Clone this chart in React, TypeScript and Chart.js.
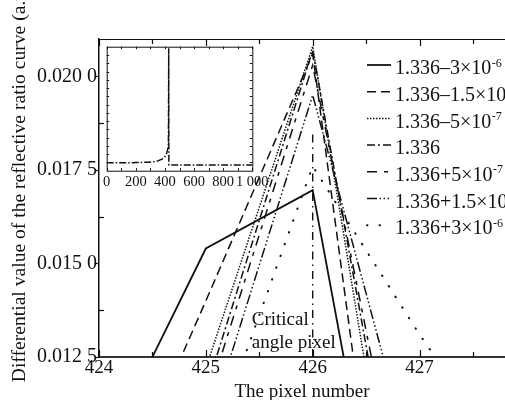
import React, { useEffect, useRef } from "react";
import { Chart, registerables } from "chart.js";

Chart.register(...registerables);

const FONT = '"Liberation Serif", "Times New Roman", serif';

// ---- main chart data ----
const pixelNumbers = [424, 425, 426, 427];
const pixelNumbersLong = [424, 425, 426, 427, 428];

const seriesBase = [
  "1.336–3×10",
  "1.336–1.5×10",
  "1.336–5×10",
  "1.336",
  "1.336+5×10",
  "1.336+1.5×10",
  "1.336+3×10",
];
const seriesExp = ["-6", "-6", "-7", "", "-7", "-6", "-6"];

const sMinus3e6 = [0.0096, 0.0154, 0.01696, 0.0016];
const sMinus15e6 = [0.0075, 0.014, 0.0206, -0.0007];
const sMinus5e7 = [0.0075, 0.0122, 0.0208, 0.0035];
const sCenter = [0.007, 0.0116, 0.0207, 0.0049];
const sPlus5e7 = [0.0068, 0.01123, 0.0203, 0.0061];
const sPlus15e6 = [0.0065, 0.01041, 0.0195, 0.0089];
const sPlus3e6 = [0.0058, 0.00963, 0.0176, 0.0131, 0.009];

const criticalPixel = 426;
const criticalRange = [0.0125, 0.0185];
const criticalText = ["Critical", "angle pixel"];
const criticalTextX = 425.43;
const criticalTextY = [0.0135, 0.01288];

const xTicks = [424, 425, 426, 427];
const xTickLabels = ["424", "425", "426", "427"];
const xMinorTicks = [424, 424.5, 425, 425.5, 426, 426.5, 427, 427.5];
const yTicks = [0.0125, 0.015, 0.0175, 0.02];
const yTickLabels = ["0.012 5", "0.015 0", "0.017 5", "0.020 0"];
const yMinorTicks = [0.01375, 0.01625, 0.01875];
const yTitle = "      Differential value of the reflective ratio curve (a.u)";
const xTitle = "The pixel number";

// ---- inset data ----
const insetX = [0, 100, 200, 280, 340, 380, 400, 412, 420, 424, 426, 427, 430, 600, 800, 1000];
const insetY = [0.095, 0.096, 0.098, 0.102, 0.11, 0.14, 0.17, 0.21, 0.27, 0.33, 1.48, 0.07, 0.07, 0.068, 0.068, 0.068];
const insetXTicks = [0, 200, 400, 600, 800, 1000];
const insetXTickLabels = ["0", "200", "400", "600", "800", "1 000"];
const insetXMinor = [0, 100, 200, 300, 400, 500, 600, 700, 800, 900, 1000];
const insetYMinor = [0.1, 0.2, 0.3, 0.4, 0.5, 0.6, 0.7, 0.8, 0.9, 1.0, 1.1, 1.2, 1.3, 1.4];

const toXY = (xs: number[], ys: number[]) => ys.map((v, i) => ({ x: xs[i], y: v }));

const mainDecor = {
  id: "mainDecor",
  afterDraw(chart: any) {
    const { ctx, chartArea: a, scales } = chart;
    const x = scales.x;
    const y = scales.y;
    ctx.save();
    ctx.setLineDash([]);
    ctx.strokeStyle = "#111";
    ctx.lineWidth = 1.2;
    ctx.beginPath();
    ctx.moveTo(a.left, a.top + 0.5);
    ctx.lineTo(a.right, a.top + 0.5);
    ctx.stroke();
    // x ticks (inward, bottom and top)
    for (const v of xMinorTicks) {
      const px = Math.round(x.getPixelForValue(v)) + 0.5;
      const major = xTicks.includes(v);
      const len = major ? 7 : 5;
      ctx.beginPath();
      ctx.moveTo(px, a.bottom);
      ctx.lineTo(px, a.bottom - len);
      ctx.moveTo(px, a.top);
      ctx.lineTo(px, a.top + len);
      ctx.stroke();
    }
    // y ticks
    for (const v of yTicks) {
      const py = Math.round(y.getPixelForValue(v)) + 0.5;
      ctx.beginPath();
      ctx.moveTo(a.left - 4, py);
      ctx.lineTo(a.left, py);
      ctx.stroke();
    }
    for (const v of yMinorTicks) {
      const py = Math.round(y.getPixelForValue(v)) + 0.5;
      ctx.beginPath();
      ctx.moveTo(a.left, py);
      ctx.lineTo(a.left + 5, py);
      ctx.stroke();
    }
    // legend
    const lx0 = 367, lx1 = 391, tx = 395, ly0 = 65, step = 26.7;
    seriesBase.forEach((label, i) => {
      const ds = chart.data.datasets[i];
      const ry = ly0 + i * step;
      ctx.save();
      ctx.strokeStyle = ds.borderColor;
      ctx.lineWidth = ds.borderWidth;
      ctx.lineCap = ds.borderCapStyle || "butt";
      ctx.setLineDash(ds.borderDash || []);
      ctx.beginPath();
      ctx.moveTo(lx0, ry);
      ctx.lineTo(lx1, ry);
      ctx.stroke();
      ctx.restore();
      ctx.fillStyle = "#111";
      ctx.textBaseline = "middle";
      ctx.textAlign = "left";
      ctx.font = `20px ${FONT}`;
      ctx.fillText(label, tx, ry + 4);
      const w = ctx.measureText(label).width;
      if (seriesExp[i]) {
        ctx.font = `12px ${FONT}`;
        ctx.fillText(seriesExp[i], tx + w + 0.5, ry - 1.5);
      }
    });
    // critical angle text
    ctx.font = `19px ${FONT}`;
    ctx.fillStyle = "#111";
    ctx.textAlign = "left";
    ctx.textBaseline = "middle";
    criticalText.forEach((t, i) => {
      ctx.fillText(t, x.getPixelForValue(criticalTextX), y.getPixelForValue(criticalTextY[i]));
    });
    ctx.restore();
  },
};

const insetDecor = {
  id: "insetDecor",
  beforeDatasetsDraw(chart: any) {
    const { ctx, chartArea: a } = chart;
    ctx.save();
    ctx.fillStyle = "#fff";
    ctx.fillRect(a.left, a.top, a.right - a.left, a.bottom - a.top);
    ctx.restore();
  },
  afterDraw(chart: any) {
    const { ctx, chartArea: a, scales } = chart;
    const x = scales.x;
    const y = scales.y;
    ctx.save();
    ctx.setLineDash([]);
    ctx.strokeStyle = "#111";
    ctx.lineWidth = 1;
    ctx.strokeRect(a.left + 0.5, a.top + 0.5, a.right - a.left, a.bottom - a.top);
    for (const v of insetXMinor) {
      const px = Math.round(x.getPixelForValue(v)) + 0.5;
      ctx.beginPath();
      ctx.moveTo(px, a.bottom);
      ctx.lineTo(px, a.bottom - 2.5);
      ctx.moveTo(px, a.top);
      ctx.lineTo(px, a.top + 2.5);
      ctx.stroke();
    }
    for (const v of insetYMinor) {
      const py = Math.round(y.getPixelForValue(v)) + 0.5;
      ctx.beginPath();
      ctx.moveTo(a.left, py);
      ctx.lineTo(a.left + 2.5, py);
      ctx.moveTo(a.right, py);
      ctx.lineTo(a.right - 2.5, py);
      ctx.stroke();
    }
    ctx.restore();
  },
};

export default function App() {
  const mainRef = useRef<HTMLCanvasElement>(null);
  const insetRef = useRef<HTMLCanvasElement>(null);

  useEffect(() => {
    document.body.style.margin = "0";
    const line = (data: any[], dash: number[], width = 1.5, cap = "butt") => ({
      data,
      borderColor: "#111",
      borderWidth: width,
      borderDash: dash,
      borderCapStyle: cap,
      pointRadius: 0,
      fill: false,
      tension: 0,
    });
    const main = new Chart(mainRef.current!, {
      type: "line",
      data: {
        datasets: [
          { label: seriesBase[0], ...line(toXY(pixelNumbers, sMinus3e6), [], 1.8) },
          { label: seriesBase[1], ...line(toXY(pixelNumbers, sMinus15e6), [9, 5]) },
          { label: seriesBase[2], ...line(toXY(pixelNumbers, sMinus5e7), [1.5, 1.5]) },
          { label: seriesBase[3], ...line(toXY(pixelNumbers, sCenter), [8, 3, 2, 3]) },
          { label: seriesBase[4], ...line(toXY(pixelNumbers, sPlus5e7), [10, 7, 4, 7]) },
          { label: seriesBase[5], ...line(toXY(pixelNumbers, sPlus15e6), [10, 2.5, 1.5, 2.5, 1.5, 2.5, 1.5, 2.5]) },
          { label: seriesBase[6], ...line(toXY(pixelNumbersLong, sPlus3e6), [0.5, 12], 2, "round") },
          {
            label: "critical",
            ...line(criticalRange.map((v) => ({ x: criticalPixel, y: v })), [8, 5, 1.5, 5], 1.4),
          },
        ] as any,
      },
      options: {
        responsive: false,
        animation: false,
        layout: { padding: { top: 39, left: 0, right: 0, bottom: 0 } },
        plugins: { legend: { display: false }, tooltip: { enabled: false } },
        scales: {
          x: {
            type: "linear",
            min: 424,
            max: 427.8,
            afterBuildTicks: (s: any) => {
              s.ticks = xTicks.map((v) => ({ value: v }));
            },
            afterFit: (s: any) => {
              s.height = 43;
            },
            grid: { display: false, drawTicks: false },
            border: { display: true, color: "#333", width: 2 },
            ticks: {
              autoSkip: false,
              maxRotation: 0,
              padding: 0,
              color: "#111",
              font: { family: FONT, size: 19 },
              callback: (_v: any, i: number) => xTickLabels[i],
            },
            title: {
              display: true,
              text: xTitle,
              color: "#111",
              font: { family: FONT, size: 19, lineHeight: 0.8 },
              padding: 0,
            },
          },
          y: {
            type: "linear",
            min: 0.0125,
            max: 0.021,
            afterBuildTicks: (s: any) => {
              s.ticks = yTicks.map((v) => ({ value: v }));
            },
            afterFit: (s: any) => {
              s.width = 99;
            },
            grid: { display: false, drawTicks: false },
            border: { display: true, color: "#111", width: 1.5 },
            ticks: {
              autoSkip: false,
              padding: 2,
              color: "#111",
              font: { family: FONT, size: 20 },
              callback: (_v: any, i: number) => yTickLabels[i],
            },
            title: {
              display: true,
              text: yTitle,
              color: "#111",
              font: { family: FONT, size: 19.6 },
              padding: { top: 8, bottom: 0 },
            },
          },
        },
      } as any,
      plugins: [mainDecor],
    });

    const inset = new Chart(insetRef.current!, {
      type: "line",
      data: {
        datasets: [
          {
            data: toXY(insetX, insetY),
            borderColor: "#111",
            borderWidth: 1.5,
            borderDash: [7, 2, 1.5, 2],
            pointRadius: 0,
            tension: 0,
            fill: false,
          },
        ] as any,
      },
      options: {
        responsive: false,
        animation: false,
        layout: { padding: { top: 6.7, left: 6.7, right: 27.7, bottom: 0 } },
        plugins: { legend: { display: false }, tooltip: { enabled: false } },
        scales: {
          x: {
            type: "linear",
            min: 0,
            max: 1000,
            afterBuildTicks: (s: any) => {
              s.ticks = insetXTicks.map((v) => ({ value: v }));
            },
            afterFit: (s: any) => {
              s.height = 19.3;
            },
            grid: { display: false, drawTicks: false },
            border: { display: false },
            ticks: {
              autoSkip: false,
              maxRotation: 0,
              padding: 3,
              color: "#111",
              font: { family: FONT, size: 14.5 },
              callback: (_v: any, i: number) => insetXTickLabels[i],
            },
          },
          y: { type: "linear", min: 0, max: 1.5, display: false },
        },
      } as any,
      plugins: [insetDecor],
    });

    return () => {
      main.destroy();
      inset.destroy();
    };
  }, []);

  return (
    <div style={{ position: "relative", width: 505, height: 400, background: "#fff" }}>
      <canvas
        ref={mainRef}
        width={505}
        height={400}
        style={{ position: "absolute", left: 0, top: 0, width: 505, height: 400 }}
      />
      <canvas
        ref={insetRef}
        width={180}
        height={150}
        style={{ position: "absolute", left: 100, top: 40, width: 180, height: 150 }}
      />
    </div>
  );
}
